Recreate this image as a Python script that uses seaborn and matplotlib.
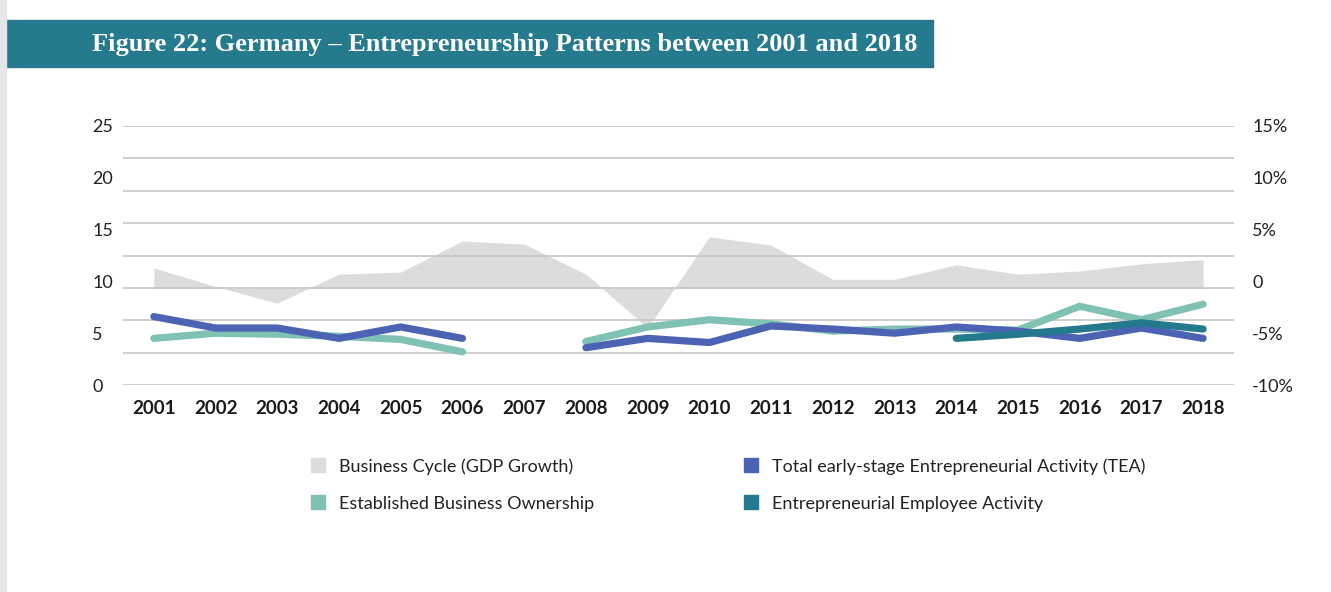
import numpy as np
import pandas as pd
import matplotlib
matplotlib.use("Agg")
import matplotlib.pyplot as plt
from matplotlib.lines import Line2D
from matplotlib.patches import Rectangle
import seaborn as sns

years = [str(y) for y in range(2001, 2019)]

# GDP growth (%), right axis
gdp_growth = [1.3, -0.5, -2.1, 0.7, 0.9, 3.9, 3.6, 0.7, -4.5, 4.3,
              3.5, 0.2, 0.2, 1.6, 0.7, 1.0, 1.7, 2.1]
gdp_baseline = -0.65  # area sits on the gridline just below the "0" label

# rates (% of adult population), left axis
tea = [6.6, 5.5, 5.5, 4.5, 5.6, 4.5, np.nan, 3.6, 4.5, 4.1,
       5.7, 5.4, 5.0, 5.6, 5.2, 4.5, 5.5, 4.5]
ebo = [4.5, 5.0, 4.9, 4.7, 4.4, 3.2, np.nan, 4.2, 5.6, 6.3,
       5.9, 5.2, 5.4, 5.4, 5.3, 7.6, 6.3, 7.8]
eea = [np.nan] * 13 + [4.5, 4.9, 5.4, 6.0, 5.4]

left_ticks = [0, 5, 10, 15, 20, 25]
right_ticks = [-10, -5, 0, 5, 10, 15]
right_labels = ["-10%", "-5%", "0", "5%", "10%", "15%"]

names = {
    "gdp": "Business Cycle (GDP Growth)",
    "tea": "Total early-stage Entrepreneurial Activity (TEA)",
    "ebo": "Established Business Ownership",
    "eea": "Entrepreneurial Employee Activity",
}
colors = {"gdp": "#dcdcde", "tea": "#4c63b3", "ebo": "#7fc2b3", "eea": "#247a8c"}

# long table, with a segment id so gaps (2007) are not bridged
rows = []
for key, vals in [("ebo", ebo), ("tea", tea), ("eea", eea)]:
    seg = 0
    prev_nan = True
    for i, v in enumerate(vals):
        if np.isnan(v):
            prev_nan = True
            continue
        if prev_nan:
            seg += 1
        prev_nan = False
        rows.append({"series": key, "x": i, "value": v, "segment": f"{key}{seg}"})
df = pd.DataFrame(rows)

sns.set_style("white")
plt.rcParams["font.family"] = ["Lato", "DejaVu Sans"]

fig = plt.figure(figsize=(13.31, 5.92), dpi=100)
ax = fig.add_axes([123 / 1331, 1 - 385 / 592, (1234 - 123) / 1331, (385 - 126) / 592])
ax2 = ax.twinx()

# GDP area on the secondary axis, drawn behind
ax2.set_zorder(0)
ax.set_zorder(1)
ax.patch.set_visible(False)
x = np.arange(len(years))
ax2.fill_between(x, gdp_growth, gdp_baseline, color=colors["gdp"], lw=0)
ax2.set_ylim(-10, 15)
ax2.set_yticks(right_ticks)
ax2.set_yticklabels(right_labels)

# gridlines: 8 equal bands over the plot height
for g in np.linspace(0, 25, 9):
    ax.axhline(g, color="#c6c6c6", lw=1.2, zorder=0)

sns.lineplot(data=df, x="x", y="value", hue="series", units="segment",
             estimator=None, palette=colors, linewidth=5.2, legend=False,
             ax=ax, sort=True)

ax.set_xlim(-0.5, len(years) - 0.5)
ax.set_ylim(0, 25)
ax.set_yticks(left_ticks)
ax.set_xticks(x)
ax.set_xticklabels(years, fontweight="bold", fontsize=13.5, color="#1a1a1a")
ax.set_xlabel("")
ax.set_ylabel("")
ax.tick_params(axis="x", length=0, pad=11)
ax.tick_params(axis="y", length=0, labelsize=13, labelcolor="#222222", pad=22)
for lab in ax.get_yticklabels():
    lab.set_horizontalalignment("left")
ax2.tick_params(axis="y", length=0, labelsize=13, labelcolor="#222222", pad=13)
for a in (ax, ax2):
    for s in a.spines.values():
        s.set_visible(False)

# legend
order = ["gdp", "ebo", "tea", "eea"]
handles = [Line2D([], [], ls="", marker="s", markersize=10, color=colors[k])
           for k in order]
labels = [names[k] for k in order]
fig.legend(handles, labels, ncol=2, loc="upper left",
           bbox_to_anchor=(293 / 1331, 1 - 442 / 592), frameon=False,
           fontsize=13, handlelength=1.0, handletextpad=0.65, columnspacing=8.2,
           labelspacing=1.15, labelcolor="#222222")

# title banner and left strip
fig.patches.append(Rectangle((6 / 1331, 1 - 67 / 592), (933 - 6) / 1331, 47 / 592,
                             transform=fig.transFigure, color="#257a8e", zorder=0))
fig.patches.append(Rectangle((0, 0), 6 / 1331, 1, transform=fig.transFigure,
                             color="#e4e5e8", zorder=0))
fig.text(92 / 1331, 1 - 44 / 592,
         "Figure 22: Germany \u2013 Entrepreneurship Patterns between 2001 and 2018",
         color="white", fontsize=19, fontweight="bold", va="center", ha="left",
         family=["Liberation Serif", "DejaVu Serif"])

fig.savefig("out.png", dpi=100)
